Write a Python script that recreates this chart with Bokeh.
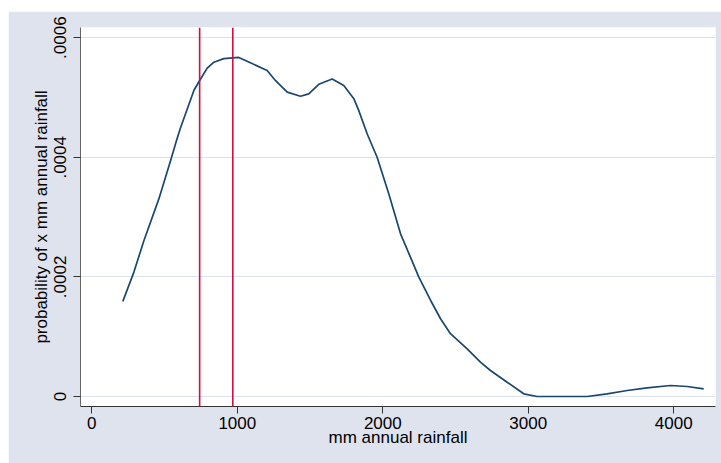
from bokeh.plotting import figure
from bokeh.models import Span, FixedTicker, Range1d
from bokeh.embed import file_html
from bokeh.resources import INLINE

# density estimate of annual rainfall
rainfall_mm = [213, 289, 357, 460, 541, 582, 608, 702, 740, 793, 839, 907, 1010,
               1090, 1205, 1263, 1343, 1434, 1491, 1560, 1652, 1732, 1801, 1835,
               1893, 1961, 2041, 2122, 2190, 2247, 2328, 2397, 2465, 2580, 2671,
               2740, 2855, 2969, 3061, 3405, 3542, 3680, 3817, 3977, 4092, 4206]
density = [0.000159, 0.000208, 0.000260, 0.000330, 0.000394, 0.000428, 0.000448,
           0.000512, 0.000528, 0.000549, 0.000559, 0.000565, 0.000567, 0.000558,
           0.000545, 0.000528, 0.000509, 0.000502, 0.000506, 0.000522, 0.000531,
           0.000520, 0.000498, 0.000478, 0.000439, 0.000400, 0.000339, 0.000272,
           0.000233, 0.000200, 0.000161, 0.000130, 0.000105, 0.0000797, 0.0000574,
           0.0000435, 0.0000239, 0.0000045, 0.0, 0.0, 0.0000045, 0.0000100,
           0.0000145, 0.0000184, 0.0000167, 0.0000129]

marker_lines_mm = [741, 969]

x_ticks = [0, 1000, 2000, 3000, 4000]
y_ticks = [0, 0.0002, 0.0004, 0.0006]
y_tick_labels = ["0", ".0002", ".0004", ".0006"]

FONT = "Liberation Sans"
BG = "#DFE3EE"

p = figure(width=713, height=452, output_backend="svg", toolbar_location=None,
           x_range=Range1d(-78, 4287), y_range=Range1d(-0.0000167, 0.000617),
           min_border_left=72, min_border_right=6, min_border_top=16,
           min_border_bottom=57, border_fill_color=BG, background_fill_color="white",
           outline_line_color=None)
p.styles = {"margin-left": "8px", "margin-top": "11px"}

p.line(rainfall_mm, density, line_color="#1A476F", line_width=1.7,
       line_join="round")

for loc in marker_lines_mm:
    p.add_layout(Span(location=loc, dimension="height", line_color="#CC1040",
                      line_width=1.6))

# axes
p.xaxis.ticker = FixedTicker(ticks=x_ticks)
p.yaxis.ticker = FixedTicker(ticks=y_ticks)
p.yaxis.major_label_overrides = dict(zip(y_ticks, y_tick_labels))
p.yaxis.major_label_orientation = "vertical"
p.xaxis.axis_label = "mm annual rainfall"
p.yaxis.axis_label = "probability of x mm annual rainfall"

for ax in (p.xaxis, p.yaxis):
    ax.axis_line_color = "#333333"
    ax.major_tick_line_color = "#333333"
    ax.major_tick_out = 7
    ax.major_tick_in = 0
    ax.minor_tick_line_color = None
    ax.major_label_text_font = FONT
    ax.major_label_text_font_size = "17px"
    ax.major_label_text_color = "black"
    ax.axis_label_text_font = FONT
    ax.axis_label_text_font_size = "17px"
    ax.axis_label_text_font_style = "normal"
    ax.axis_label_text_color = "black"

p.yaxis.axis_line_color = "#666666"
p.xaxis.major_label_standoff = 3
p.xaxis.axis_label_standoff = -4
p.yaxis.major_label_standoff = 7
p.yaxis.axis_label_standoff = 1

p.xgrid.grid_line_color = None
p.ygrid.grid_line_color = "#DDE3EE"
p.ygrid.grid_line_width = 1

open("out.html", "w").write(file_html(p, INLINE))
